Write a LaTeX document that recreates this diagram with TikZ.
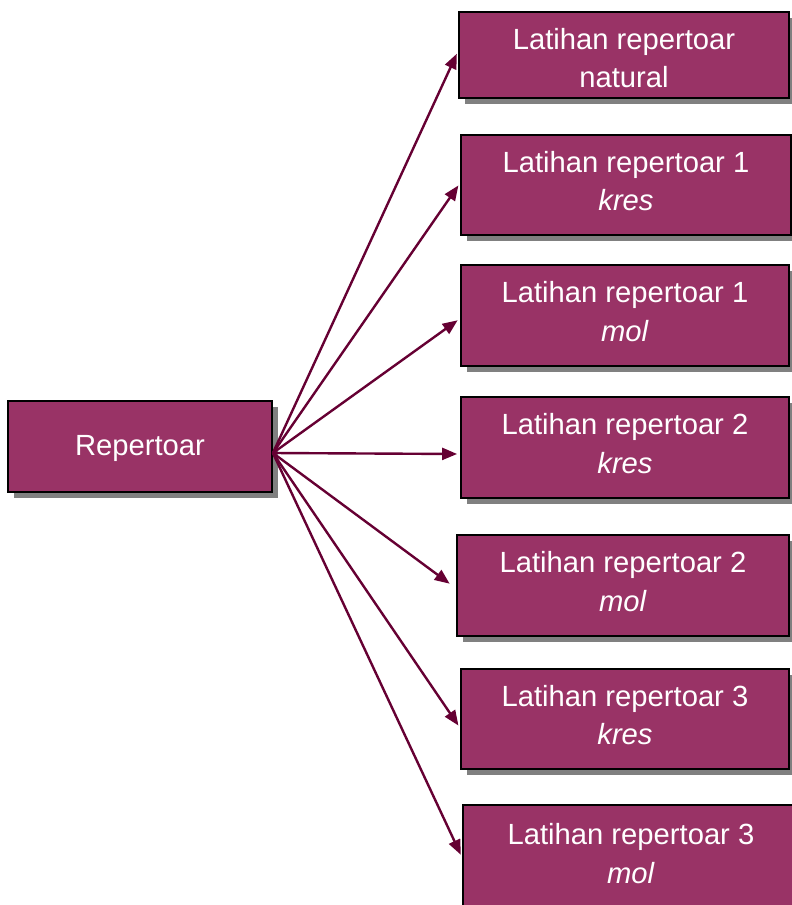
\documentclass[tikz,border=0pt]{standalone}
\usepackage{fontspec}
\setmainfont{Liberation Sans}
\usetikzlibrary{shadows,arrows.meta}
\definecolor{boxfill}{HTML}{993366}
\definecolor{arrowcol}{HTML}{660033}
\begin{document}
\begin{tikzpicture}[x=1pt,y=-1pt,
  box/.style={draw=black, line width=1.8pt, fill=boxfill, inner sep=0pt,
    drop shadow={shadow xshift=6pt, shadow yshift=-6pt, fill=black!50, opacity=1}},
  lbl/.style={text=white, align=center, inner sep=0pt,
    font=\fontsize{29.2pt}{38.5pt}\selectfont},
  conn/.style={draw=arrowcol, line width=2.4pt,
    -{Triangle[length=15pt,width=12pt]}, shorten >=3pt}]
\useasboundingbox (0,0) rectangle (792,905);
\node[box, minimum width=264pt, minimum height=91pt] (L) at (140,446.5) {};
\node[box, minimum width=330pt, minimum height=86pt] (n1) at (624,55) {};
\node[box, minimum width=330pt, minimum height=100pt] (n2) at (626,185) {};
\node[box, minimum width=328pt, minimum height=101pt] (n3) at (625,315.5) {};
\node[box, minimum width=328pt, minimum height=101pt] (n4) at (625,447.5) {};
\node[box, minimum width=332pt, minimum height=101pt] (n5) at (623,585.5) {};
\node[box, minimum width=328pt, minimum height=100pt] (n6) at (625,719) {};
\node[box, minimum width=338pt, minimum height=101pt] (n7) at (632,855.5) {};
\node[lbl] (tL) at ([yshift=-2pt]L.center) {Repertoar};
\node[lbl] (t1) at ([yshift=-3pt]n1.center) {Latihan repertoar\\natural};
\node[lbl] (t2) at ([yshift=4pt]n2.center) {Latihan repertoar 1\\\textit{kres}};
\node[lbl] (t3) at ([yshift=4pt]n3.center) {Latihan repertoar 1\\\textit{mol}};
\node[lbl] (t4) at ([yshift=4pt]n4.center) {Latihan repertoar 2\\\textit{kres}};
\node[lbl] (t5) at ([yshift=4pt]n5.center) {Latihan repertoar 2\\\textit{mol}};
\node[lbl] (t6) at ([yshift=4pt]n6.center) {Latihan repertoar 3\\\textit{kres}};
\node[lbl] (t7) at ([yshift=2pt,xshift=-1pt]n7.center) {Latihan repertoar 3\\\textit{mol}};
\coordinate (s) at ([yshift=-6.5pt]L.east);
\draw[conn] (s) -- ([yshift=4pt]n1.west);
\draw[conn] (s) -- ([yshift=2pt]n2.west);
\draw[conn] (s) -- ([yshift=-3pt]n3.west);
\draw[conn] (s) -- ([yshift=-6.5pt]n4.west);
\draw[conn] (s) -- ([xshift=-4pt]n5.west);
\draw[conn] (s) -- ([yshift=-9pt]n6.west);
\draw[conn] (s) -- ([yshift=-2pt]n7.west);
\end{tikzpicture}
\end{document}
